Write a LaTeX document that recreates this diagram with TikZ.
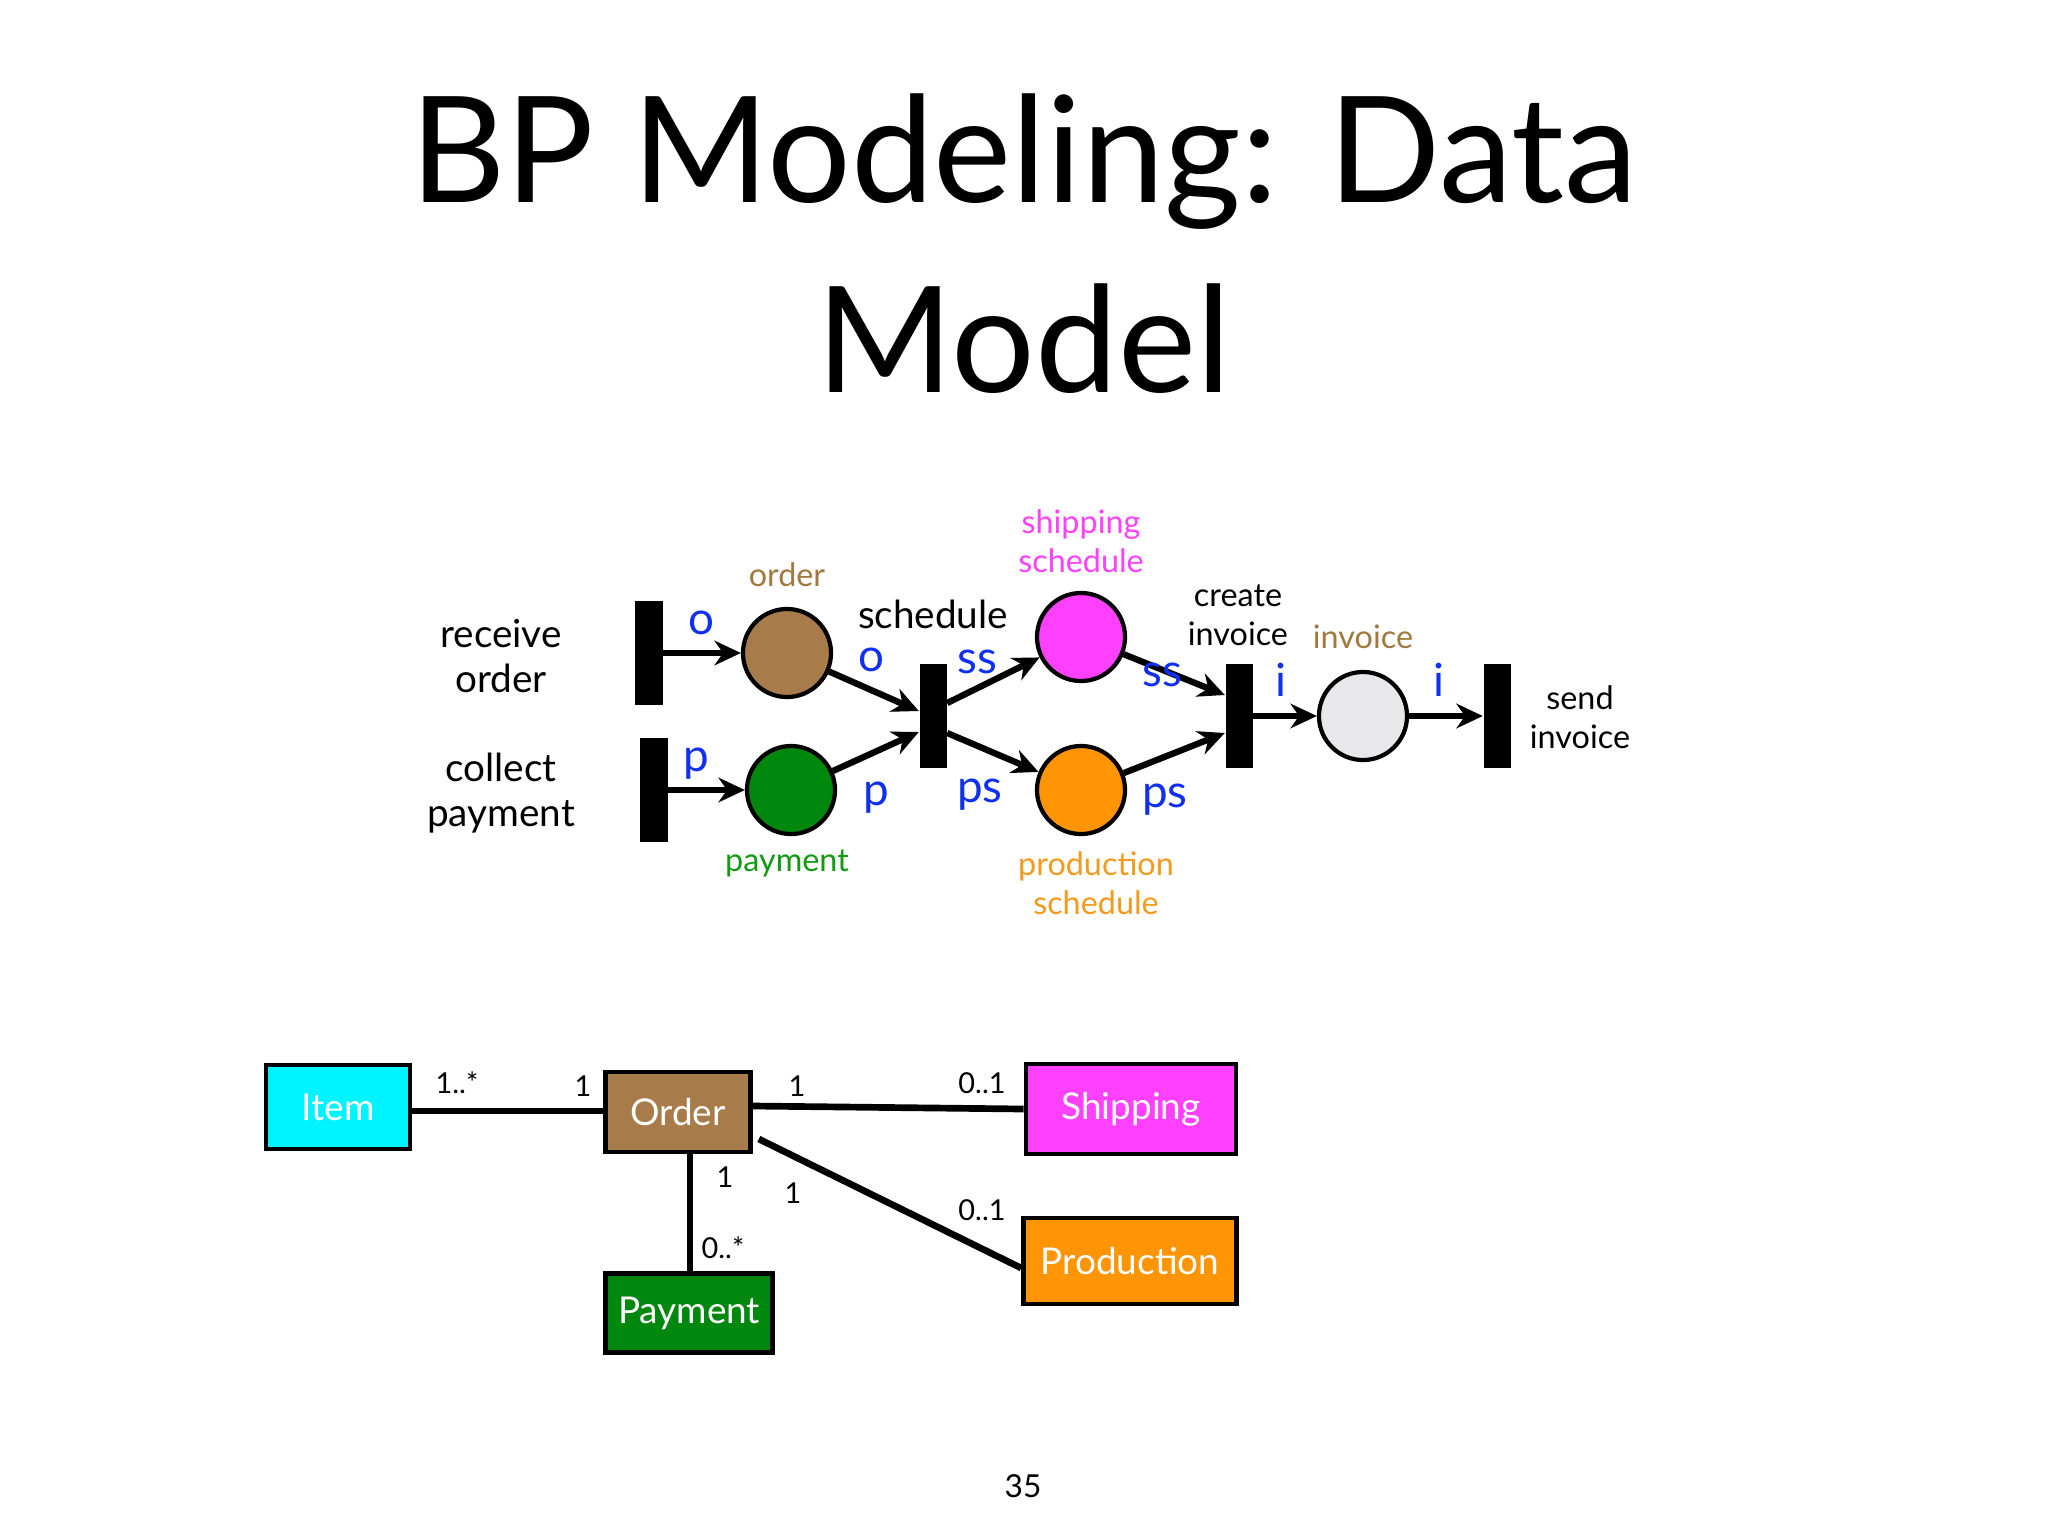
\documentclass[tikz,border=0pt]{standalone}
\usepackage{fontspec}
\setmainfont{Lato}
\usetikzlibrary{arrows.meta, calc}
\definecolor{placebrown}{HTML}{A77C4A}
\definecolor{placegreen}{HTML}{00870E}
\definecolor{placepink}{HTML}{FF40FF}
\definecolor{placeorange}{HTML}{FF9505}
\definecolor{placegray}{HTML}{E8E8EA}
\definecolor{clscyan}{HTML}{00F4FF}
\definecolor{lblblue}{HTML}{1030F0}
\definecolor{txtbrown}{HTML}{A07840}
\definecolor{txtgreen}{HTML}{139A13}
\definecolor{txtorange}{HTML}{F39A1F}

\begin{document}
\begin{tikzpicture}[x=0.01cm, y=-0.01cm,
  place/.style={circle, draw=black, line width=1.2pt, minimum size=0.88cm, inner sep=0pt},
  trans/.style={fill=black, minimum width=0.27cm, minimum height=1.03cm, inner sep=0pt},
  arc/.style={-{Stealth[length=7.5pt,width=7pt]}, line width=1.8pt},
  arclbl/.style={text=lblblue, font=\fontsize{13}{15}\selectfont},
  tlbl/.style={align=center, font=\fontsize{11}{13}\selectfont},
  plbl/.style={align=center, font=\fontsize{9.2}{11}\selectfont},
  cls/.style={draw=black, line width=1.3pt, text=white, font=\fontsize{10.5}{12}\selectfont, inner sep=0pt},
  assoc/.style={line width=1.9pt},
  mult/.style={font=\fontsize{8.2}{10}\selectfont}]
  \useasboundingbox (0,0) rectangle (2048,1536);

  % Title
  \node[anchor=base, font=\fontsize{42}{50}\selectfont] (title1) at (1024,202) {BP Modeling: Data};
  \node[anchor=base, font=\fontsize{42}{50}\selectfont] (title2) at (1024,392) {Model};

  % Petri net: transitions
  \node[trans] (recv)   at (649,653)  {};
  \node[trans] (coll)   at (654,790)  {};
  \node[trans] (sched)  at (933,716)  {};
  \node[trans] (create) at (1239,716) {};
  \node[trans] (send)   at (1497,716) {};

  % Petri net: places
  \node[place, fill=placebrown]  (ord)  at (787,653)  {};
  \node[place, fill=placegreen]  (pay)  at (791,790)  {};
  \node[place, fill=placepink]   (ship) at (1081,637) {};
  \node[place, fill=placeorange] (prod) at (1081,790) {};
  \node[place, fill=placegray]   (invc) at (1363,716) {};

  % Arcs
  \draw[arc] (recv.east) -- (ord);
  \draw[arc] (coll.east) -- (pay);
  \draw[arc] (ord) -- ($(sched.west)+(0,-5)$);
  \draw[arc] (pay) -- ($(sched.west)+(0,16)$);
  \draw[arc] ($(sched.east)+(0,-13)$) -- (ship);
  \draw[arc] ($(sched.east)+(0,17)$) -- (prod);
  \draw[arc] (ship) -- ($(create.west)+(0,-21)$);
  \draw[arc] (prod) -- ($(create.west)+(0,17)$);
  \draw[arc] (create.east) -- (invc);
  \draw[arc] (invc) -- (send);

  % Transition labels
  \node[tlbl] (recvlbl)  at (501,656)  {receive\\order};
  \node[tlbl] (colllbl)  at (501,793)  {collect\\payment};
  \node[tlbl] (schedlbl) at (933,614)  {schedule};
  \node[plbl] (createlbl) at (1238,615) {create\\invoice};
  \node[plbl] (sendlbl)  at (1580,717) {send\\invoice};

  % Place labels
  \node[plbl, text=txtbrown]  (ordlbl)  at (787,575)  {order};
  \node[plbl, text=txtgreen]  (paylbl)  at (787,863)  {payment};
  \node[plbl, text=placepink] (shiplbl) at (1081,541) {shipping\\schedule};
  \node[plbl, text=txtorange] (prodlbl) at (1096,883) {production\\schedule};
  \node[plbl, text=txtbrown]  (invclbl) at (1363,637) {invoice};

  % Arc labels
  \node[arclbl] (lo1)  at (701,623)  {o};
  \node[arclbl] (lo2)  at (871,660)  {o};
  \node[arclbl] (lp1)  at (696,764)  {p};
  \node[arclbl] (lp2)  at (876,798)  {p};
  \node[arclbl] (lss1) at (977,662)  {ss};
  \node[arclbl] (lps1) at (980,795)  {ps};
  \node[arclbl] (lss2) at (1162,675) {ss};
  \node[arclbl] (lps2) at (1165,800) {ps};
  \node[arclbl] (li1)  at (1281,680) {i};
  \node[arclbl] (li2)  at (1439,680) {i};

  % Data model classes
  \node[cls, fill=clscyan,     minimum width=1.44cm, minimum height=0.84cm] (item)    at (338,1107)  {Item};
  \node[cls, fill=placebrown,  minimum width=1.45cm, minimum height=0.80cm] (order)   at (678,1112)  {Order};
  \node[cls, fill=placepink,   minimum width=2.10cm, minimum height=0.90cm] (shipcls) at (1131,1109) {Shipping};
  \node[cls, fill=placeorange, minimum width=2.13cm, minimum height=0.86cm] (prodcls) at (1130,1261) {Production};
  \node[cls, fill=placegreen,  minimum width=1.67cm, minimum height=0.79cm] (paycls)  at (689,1313)  {Payment};

  % Associations
  \draw[assoc] (item.east |- 0,1111) -- (order.west |- 0,1111);
  \draw[assoc] ($(order.east)+(0,-6)$) -- (shipcls.west);
  \draw[assoc] ($(order.east)+(6,27)$) -- ($(prodcls.west)+(0,7)$);
  \draw[assoc] (order.south -| 690,0) -- (paycls.north -| 690,0);

  % Multiplicities
  \node[mult] (m1) at (457,1083) {1..*};
  \node[mult] (m2) at (583,1086) {1};
  \node[mult] (m3) at (797,1086) {1};
  \node[mult] (m4) at (982,1083) {0..1};
  \node[mult] (m5) at (725,1177) {1};
  \node[mult] (m6) at (793,1193) {1};
  \node[mult] (m7) at (982,1210) {0..1};
  \node[mult] (m8) at (723,1248) {0..*};

  % Page number
  \node[font=\fontsize{9}{11}\selectfont] (pagenum) at (1023,1486) {35};
\end{tikzpicture}
\end{document}
